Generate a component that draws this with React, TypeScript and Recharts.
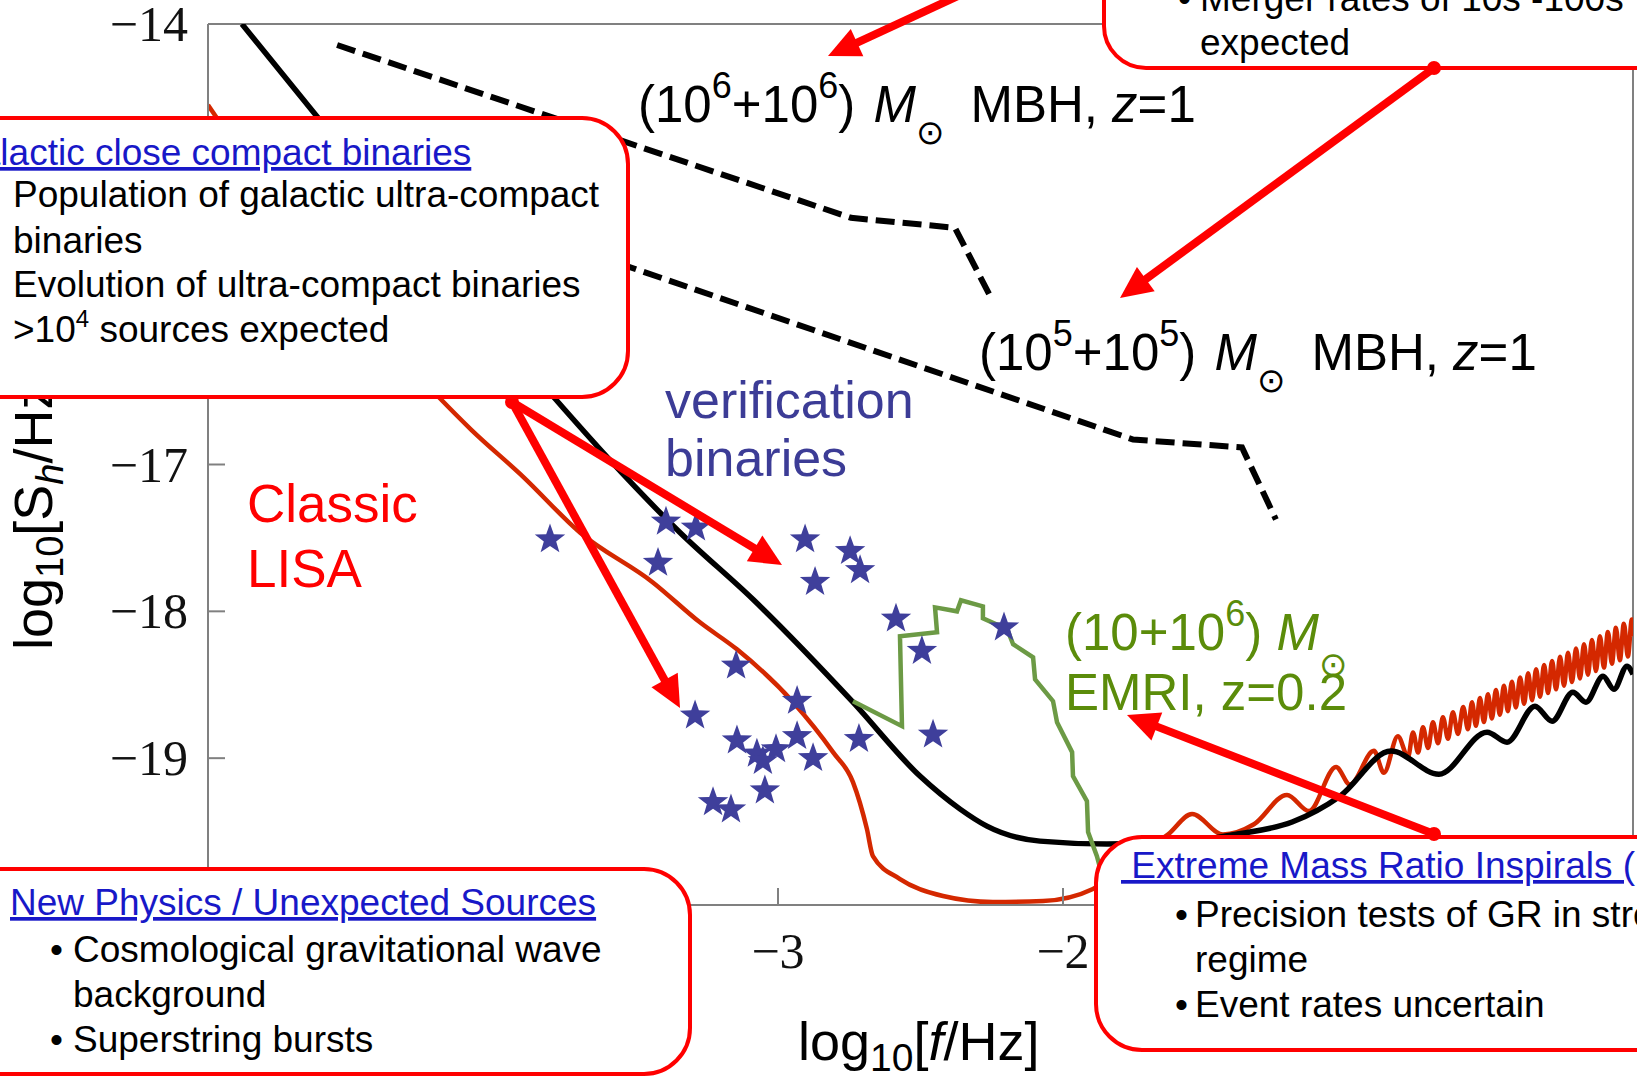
import React from "react";
import { ComposedChart, Line, Scatter, XAxis, YAxis, ReferenceLine } from "recharts";

const FRAME = "#808080";
const SANS = "'Liberation Sans', Arial, sans-serif";
const SERIF = "'Liberation Serif', 'Times New Roman', serif";
const LINK = "#1818c8";
const BOX_RED = "#ff0000";

const xTicks = [-5, -4, -3, -2, -1, 0];
const yTicks = [-20, -19, -18, -17, -16, -15, -14];
// tick labels that are not hidden under the callout boxes
const xTickLabels = [-3, -2];
const yTickLabels = [-19, -18, -17, -14];

// black solid sensitivity curve
const lisaNew: [number, number][] = [
  [-4.881, -14.0], [-4.614, -14.639], [-3.786, -16.544], [-3.582, -16.986],
  [-3.344, -17.463], [-3.088, -17.918], [-2.737, -18.619], [-2.502, -19.122],
  [-2.361, -19.347], [-2.267, -19.463], [-2.081, -19.565], [-1.846, -19.585],
  [-1.589, -19.571], [-1.389, -19.517], [-1.196, -19.435], [-1.028, -19.259],
  [-0.849, -18.952], [-0.681, -19.109], [-0.512, -18.823], [-0.442, -18.891],
  [-0.344, -18.646], [-0.284, -18.748], [-0.211, -18.551], [-0.165, -18.619],
  [-0.105, -18.442], [-0.067, -18.531], [-0.021, -18.374], [0, -18.429],
];

// red "Classic LISA" curve
const lisaClassic: [number, number][] = [
  [-5.0, -14.551], [-4.818, -15.061], [-4.537, -15.776], [-4.189, -16.544],
  [-4.077, -16.762], [-3.895, -17.082], [-3.695, -17.463], [-3.439, -17.803],
  [-3.274, -18.075], [-3.144, -18.259], [-2.947, -18.619], [-2.807, -18.959],
  [-2.737, -19.163], [-2.688, -19.483], [-2.667, -19.667], [-2.572, -19.823],
  [-2.421, -19.939], [-2.246, -19.98], [-2.07, -19.973], [-1.895, -19.891],
  [-1.765, -19.687], [-1.632, -19.52], [-1.547, -19.38], [-1.439, -19.52],
  [-1.33, -19.45], [-1.214, -19.25], [-1.137, -19.36], [-1.042, -19.06],
  [-0.993, -19.18], [-0.909, -18.95], [-0.874, -19.1], [-0.825, -18.85],
  [-0.789, -18.99],
  [-0.772, -18.825], [-0.754, -18.962], [-0.737, -18.79], [-0.719, -18.93],
  [-0.702, -18.756], [-0.684, -18.899], [-0.667, -18.721], [-0.649, -18.868],
  [-0.632, -18.687], [-0.614, -18.835], [-0.596, -18.652], [-0.579, -18.803],
  [-0.565, -18.62], [-0.551, -18.779], [-0.537, -18.591], [-0.523, -18.754],
  [-0.509, -18.564], [-0.495, -18.73], [-0.481, -18.535], [-0.467, -18.704],
  [-0.453, -18.507], [-0.439, -18.68], [-0.425, -18.479], [-0.411, -18.655],
  [-0.396, -18.451], [-0.382, -18.63], [-0.368, -18.422], [-0.354, -18.605],
  [-0.34, -18.394], [-0.326, -18.581], [-0.312, -18.366], [-0.298, -18.556],
  [-0.284, -18.338], [-0.27, -18.531], [-0.256, -18.309], [-0.242, -18.506],
  [-0.228, -18.282], [-0.214, -18.482], [-0.2, -18.253], [-0.186, -18.457],
  [-0.172, -18.225], [-0.158, -18.432], [-0.144, -18.196], [-0.13, -18.407],
  [-0.116, -18.169], [-0.102, -18.383], [-0.088, -18.14], [-0.074, -18.357],
  [-0.06, -18.112], [-0.046, -18.333], [-0.032, -18.084], [-0.018, -18.308],
  [-0.004, -18.056], [0, -18.17],
];

// green EMRI track
const emri: [number, number][] = [
  [-2.737, -18.612], [-2.565, -18.782], [-2.572, -18.17], [-2.442, -18.143],
  [-2.449, -17.973], [-2.372, -18.0], [-2.358, -17.925], [-2.281, -17.966],
  [-2.281, -18.048], [-2.196, -18.122], [-2.175, -18.224], [-2.105, -18.313],
  [-2.098, -18.463], [-2.035, -18.612], [-2.021, -18.755], [-1.968, -18.959],
  [-1.965, -19.122], [-1.916, -19.293], [-1.912, -19.503], [-1.881, -19.667],
  [-1.835, -20.0],
];

// dashed MBH tracks
const mbh6: [number, number][] = [
  [-4.547, -14.143], [-2.744, -15.32], [-2.379, -15.388], [-2.249, -15.878],
];
const mbh5: [number, number][] = [
  [-4.547, -14.973], [-1.754, -16.83], [-1.372, -16.884], [-1.253, -17.374],
];

// verification binaries (stars)
const verification: [number, number][] = [
  [-3.8, -17.51], [-3.393, -17.39], [-3.288, -17.43], [-3.421, -17.67],
  [-2.905, -17.51], [-2.747, -17.59], [-2.712, -17.72], [-2.87, -17.8],
  [-2.586, -18.05], [-2.495, -18.27], [-2.207, -18.11], [-3.147, -18.37],
  [-2.933, -18.61], [-3.291, -18.71], [-3.144, -18.88], [-2.716, -18.87],
  [-2.456, -18.84], [-2.933, -18.85], [-3.007, -18.94], [-3.074, -18.97],
  [-3.053, -19.02], [-2.877, -19.0], [-3.046, -19.22], [-3.228, -19.3],
  [-3.165, -19.35],
];

const pts = (a: [number, number][]) => a.map(([x, y]) => ({ x, y }));
const fmt = (v: number) => String(v).replace("-", "\u2212");

function XTick(props: any) {
  const { x, y, payload } = props;
  return (
    <g>
      <line x1={x} x2={x} y1={y - 17} y2={y} stroke={FRAME} strokeWidth={2} />
      {xTickLabels.includes(payload.value) && (
        <text x={x} y={y + 63} textAnchor="middle" fontFamily={SERIF} fontSize={50} fill="#111">
          {fmt(payload.value)}
        </text>
      )}
    </g>
  );
}

function YTick(props: any) {
  const { x, y, payload } = props;
  return (
    <g>
      <line x1={x} x2={x + 17} y1={y} y2={y} stroke={FRAME} strokeWidth={2} />
      {yTickLabels.includes(payload.value) && (
        <text x={x - 20} y={y + 17} textAnchor="end" fontFamily={SERIF} fontSize={50} fill="#111">
          {fmt(payload.value)}
        </text>
      )}
    </g>
  );
}

function starPoints(cx: number, cy: number, R: number, r: number) {
  const out: string[] = [];
  for (let i = 0; i < 10; i++) {
    const a = -Math.PI / 2 + (i * Math.PI) / 5;
    const rad = i % 2 === 0 ? R : r;
    out.push(`${cx + rad * Math.cos(a)},${cy + rad * Math.sin(a)}`);
  }
  return out.join(" ");
}

const renderStar = (p: any) => (
  <polygon points={starPoints(p.cx, p.cy, 16, 6.5)} fill="#3f3f9b" />
);

function Arrow({ x1, y1, x2, y2 }: { x1: number; y1: number; x2: number; y2: number }) {
  const dx = x2 - x1;
  const dy = y2 - y1;
  const len = Math.hypot(dx, dy);
  const ux = dx / len;
  const uy = dy / len;
  const L = 32;
  const W = 15;
  const bx = x2 - ux * L;
  const by = y2 - uy * L;
  return (
    <g>
      <line x1={x1} y1={y1} x2={bx + ux * 4} y2={by + uy * 4} stroke={BOX_RED} strokeWidth={8} />
      <polygon
        points={`${x2},${y2} ${bx - uy * W},${by + ux * W} ${bx + uy * W},${by - ux * W}`}
        fill={BOX_RED}
      />
    </g>
  );
}

const lineCommon = {
  dot: false,
  activeDot: false,
  isAnimationActive: false,
  dataKey: "y",
} as const;

export default function App() {
  return (
    <div
      style={{
        position: "absolute",
        left: 0,
        top: 0,
        width: 1637,
        height: 1077,
        background: "#fff",
        overflow: "hidden",
      }}
    >
      <ComposedChart width={1637} height={1077} margin={{ top: 24, right: 4, bottom: 0, left: 0 }}>
        <XAxis
          type="number"
          dataKey="x"
          domain={[-5, 0]}
          ticks={xTicks}
          interval={0}
          allowDataOverflow
          height={172}
          tickSize={0}
          tickMargin={0}
          tickLine={false}
          axisLine={{ stroke: FRAME, strokeWidth: 2 }}
          tick={(p: any) => <XTick {...p} />}
        />
        <YAxis
          type="number"
          dataKey="y"
          domain={[-20, -14]}
          ticks={yTicks}
          interval={0}
          allowDataOverflow
          width={208}
          tickSize={0}
          tickMargin={0}
          tickLine={false}
          axisLine={{ stroke: FRAME, strokeWidth: 2 }}
          tick={(p: any) => <YTick {...p} />}
        />
        <ReferenceLine y={-14} stroke={FRAME} strokeWidth={2} />
        <ReferenceLine x={0} stroke={FRAME} strokeWidth={2} />
        <Line {...lineCommon} data={pts(mbh6)} type="linear" stroke="#000" strokeWidth={6} strokeDasharray="19 8" />
        <Line {...lineCommon} data={pts(mbh5)} type="linear" stroke="#000" strokeWidth={6} strokeDasharray="19 8" />
        <Line {...lineCommon} data={pts(lisaClassic)} type="monotone" stroke="#d42800" strokeWidth={4.5} />
        <Line {...lineCommon} data={pts(lisaNew)} type="monotone" stroke="#000" strokeWidth={5.5} />
        <Line {...lineCommon} data={pts(emri)} type="linear" stroke="#6c9a45" strokeWidth={4.5} />
        <Scatter data={pts(verification)} shape={renderStar} isAnimationActive={false} />
      </ComposedChart>

      <svg
        width={1637}
        height={1077}
        style={{ position: "absolute", left: 0, top: 0, pointerEvents: "none" }}
      >
        {/* in-plot labels */}
        <text x={638} y={122} fontFamily={SANS} fontSize={51} fill="#000">
          (10<tspan fontSize={36} dy={-24}>6</tspan>
          <tspan dy={24}>+10</tspan>
          <tspan fontSize={36} dy={-24}>6</tspan>
          <tspan dy={24}>) </tspan>
          <tspan fontStyle="italic" dx={4}>M</tspan>
          <tspan fontFamily="'DejaVu Sans'" fontSize={34} dy={22}>⊙</tspan>
          <tspan dy={-22} dx={26}>MBH, </tspan>
          <tspan fontStyle="italic">z</tspan>=1
        </text>
        <text x={979} y={370} fontFamily={SANS} fontSize={51} fill="#000">
          (10<tspan fontSize={36} dy={-24}>5</tspan>
          <tspan dy={24}>+10</tspan>
          <tspan fontSize={36} dy={-24}>5</tspan>
          <tspan dy={24}>) </tspan>
          <tspan fontStyle="italic" dx={4}>M</tspan>
          <tspan fontFamily="'DejaVu Sans'" fontSize={34} dy={22}>⊙</tspan>
          <tspan dy={-22} dx={26}>MBH, </tspan>
          <tspan fontStyle="italic">z</tspan>=1
        </text>
        <text fontFamily={SANS} fontSize={52} fill="#3c3c96">
          <tspan x={665} y={418}>verification</tspan>
          <tspan x={665} y={476}>binaries</tspan>
        </text>
        <text fontFamily={SANS} fontSize={53} fill="#ff0000">
          <tspan x={247} y={522}>Classic</tspan>
          <tspan x={247} y={587}>LISA</tspan>
        </text>
        <text x={1065} y={650} fontFamily={SANS} fontSize={51} fill="#5b8c0a">
          (10+10<tspan fontSize={36} dy={-24}>6</tspan>
          <tspan dy={24}>) </tspan>
          <tspan fontStyle="italic">M</tspan>
          <tspan fontFamily="'DejaVu Sans'" fontSize={34} dy={26}>⊙</tspan>
        </text>
        <text x={1065} y={710} fontFamily={SANS} fontSize={51} fill="#5b8c0a">
          EMRI, z=0.2
        </text>

        {/* axis titles */}
        <text
          x={52}
          y={650}
          transform="rotate(-90 52 650)"
          fontFamily={SANS}
          fontSize={54}
          fill="#000"
        >
          log<tspan fontSize={38} dy={11}>10</tspan>
          <tspan dy={-11}>[S</tspan>
          <tspan fontSize={38} dy={11} fontStyle="italic">h</tspan>
          <tspan dy={-11}>/Hz]</tspan>
        </text>
        <text x={798} y={1060} fontFamily={SANS} fontSize={54} fill="#000">
          log<tspan fontSize={39} dy={11}>10</tspan>
          <tspan dy={-11}>[</tspan>
          <tspan fontStyle="italic">f</tspan>/Hz]
        </text>

        {/* callout boxes */}
        <rect x={-60} y={118} width={688} height={279} rx={46} fill="#fff" stroke={BOX_RED} strokeWidth={4} />
        <text fontFamily={SANS} fontSize={37} fill="#000">
          <tspan x={-49} y={165} fill={LINK} textDecoration="underline">Galactic close compact binaries</tspan>
          <tspan x={13} y={207}>Population of galactic ultra-compact</tspan>
          <tspan x={13} y={253}>binaries</tspan>
          <tspan x={13} y={297}>Evolution of ultra-compact binaries</tspan>
          <tspan x={13} y={342}>&gt;10</tspan>
          <tspan fontSize={24} dy={-15}>4</tspan>
          <tspan dy={15}> sources expected</tspan>
        </text>

        <rect x={1104} y={-120} width={600} height={188} rx={42} fill="#fff" stroke={BOX_RED} strokeWidth={4} />
        <text fontFamily={SANS} fontSize={37} fill="#000">
          <tspan x={1178} y={11}>•</tspan>
          <tspan x={1200} y={11}>Merger rates of 10s -100s</tspan>
          <tspan x={1200} y={55}>expected</tspan>
        </text>

        <rect x={-60} y={869} width={750} height={205} rx={46} fill="#fff" stroke={BOX_RED} strokeWidth={4} />
        <text fontFamily={SANS} fontSize={37} fill="#000">
          <tspan x={10} y={915} fill={LINK} textDecoration="underline">New Physics / Unexpected Sources</tspan>
          <tspan x={50} y={962}>•</tspan>
          <tspan x={73} y={962}>Cosmological gravitational wave</tspan>
          <tspan x={73} y={1007}>background</tspan>
          <tspan x={50} y={1052}>•</tspan>
          <tspan x={73} y={1052}>Superstring bursts</tspan>
        </text>

        <rect x={1096} y={837} width={600} height={213} rx={46} fill="#fff" stroke={BOX_RED} strokeWidth={4} />
        <text fontFamily={SANS} fontSize={37} fill="#000" style={{ whiteSpace: "pre" }}>
          <tspan x={1121} y={878} fill={LINK} textDecoration="underline"> Extreme Mass Ratio Inspirals (EMRIs)</tspan>
          <tspan x={1175} y={927}>•</tspan>
          <tspan x={1195} y={927}>Precision tests of GR in strong-field</tspan>
          <tspan x={1195} y={972}>regime</tspan>
          <tspan x={1175} y={1017}>•</tspan>
          <tspan x={1195} y={1017}>Event rates uncertain</tspan>
        </text>

        {/* arrows */}
        <Arrow x1={512} y1={402} x2={782} y2={565} />
        <Arrow x1={512} y1={402} x2={680} y2={708} />
        <Arrow x1={1434} y1={68} x2={1120} y2={298} />
        <Arrow x1={958} y1={-4} x2={828} y2={56} />
        <Arrow x1={1434} y1={834} x2={1127} y2={715} />
        <circle cx={512} cy={402} r={7} fill={BOX_RED} />
        <circle cx={1434} cy={68} r={7} fill={BOX_RED} />
        <circle cx={1434} cy={834} r={7} fill={BOX_RED} />
      </svg>
    </div>
  );
}
